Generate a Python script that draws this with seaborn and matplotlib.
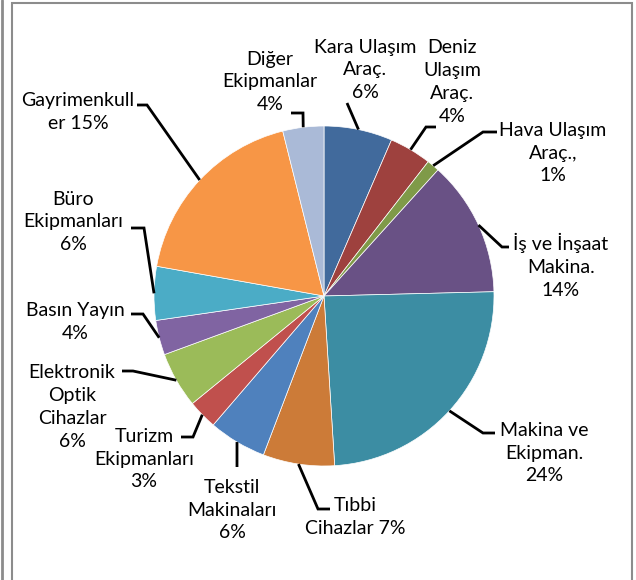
import matplotlib
matplotlib.use("Agg")
import matplotlib.pyplot as plt
from matplotlib.patches import Rectangle
import numpy as np
import seaborn as sns

categories = ["Kara Ulaşım\nAraç.", "Deniz\nUlaşım\nAraç.", "Hava Ulaşım\nAraç.,",
              "İş ve İnşaat\nMakina.", "Makina ve\nEkipman.", "Tıbbi\nCihazlar",
              "Tekstil\nMakinaları", "Turizm\nEkipmanları", "Elektronik\nOptik\nCihazlar",
              "Basın Yayın", "Büro\nEkipmanları", "Gayrimenkull\ner", "Diğer\nEkipmanlar"]
shares = [6.5, 4.0, 1.2, 12.9, 24.4, 6.8, 5.5, 2.8, 5.3, 3.3, 5.1, 18.3, 3.9]
# percentages as printed on the labels
label_pct = ["6%", "4%", "1%", "14%", "24%", "7%", "6%", "3%", "6%", "4%", "6%", "15%", "4%"]
label_sep = ["\n", "\n", "\n", "\n", "\n", " ", "\n", "\n", "\n", "\n", "\n", " ", "\n"]

colors = ["#416A9C", "#9E413E", "#7F9A48", "#695185", "#3C8DA3", "#CC7B38",
          "#4F81BD", "#C0504D", "#9BBB59", "#8064A2", "#4BACC6", "#F79646", "#AABAD7"]

W, H = 636, 580
CX, CY, R = 324, 296, 170

# label layout in pixels: text centre (x, y), elbow (x, y), end x of leader
layout = [
    (365, 70, 347, 103, 347),
    (452, 82, 426, 127, 436),
    (553, 153, 483, 132, 497),
    (561, 266, 502, 247, 509),
    (544, 453, 483, 433, 495),
    (355, 517, 318, 509, 330),
    (232, 510, 237, 467, 237),
    (144, 459, 193, 437, 181),
    (72, 407, 133, 371, 122),
    (75, 322, 143, 314, 131),
    (73, 222, 144, 228, 131),
    (78, 112, 147, 105, 137),
    (270, 82, 303, 113, 291),
]

sns.set_theme(style="white")
plt.rcParams["font.family"] = ["Lato", "DejaVu Sans"]

fig = plt.figure(figsize=(W / 100, H / 100), dpi=100)
ax = fig.add_axes([0, 0, 1, 1])

wedges, _ = ax.pie(shares, colors=colors, startangle=90, counterclock=False,
                   center=(CX, H - CY), radius=R,
                   wedgeprops=dict(edgecolor="white", linewidth=0.5))
ax.set_xlim(0, W)
ax.set_ylim(0, H)
ax.set_aspect("equal")
ax.axis("off")

for w, cat, pct, sep, (tx, ty, ex, ey, endx) in zip(wedges, categories, label_pct, label_sep, layout):
    mid = np.deg2rad((w.theta1 + w.theta2) / 2)
    sx = CX + R * np.cos(mid)
    sy = (H - CY) + R * np.sin(mid)
    ax.plot([sx, ex, endx], [sy, H - ey, H - ey], color="black", lw=2,
            solid_capstyle="butt", solid_joinstyle="miter")
    ax.text(tx, H - ty, cat + sep + pct, ha="center", va="center",
            fontsize=14, color="black", linespacing=1.42)

# chart frame
ax.add_patch(Rectangle((12, -20), 620, H - 3 + 20, fill=False, edgecolor="#8c8c8c", lw=1.5))
ax.plot([2, 2], [0, H], color="#8c8c8c", lw=2)

fig.savefig("out.png", dpi=100)
